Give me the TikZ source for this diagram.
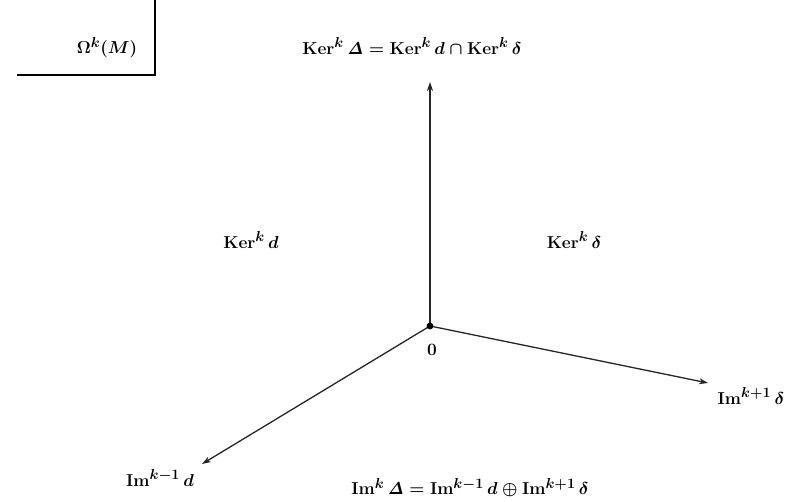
\documentclass[tikz,border=0pt]{standalone}
\usetikzlibrary{arrows.meta}
\begin{document}
\begin{tikzpicture}[x=1pt,y=1pt,
  lbl/.style={inner sep=0pt,font=\fontsize{19}{22}\selectfont\boldmath},
  axis/.style={draw=black!85,line width=1.3pt,-{Stealth[length=9pt,width=6pt]}}]
\useasboundingbox (0,0) rectangle (792,502);
% corner box
\coordinate (b1) at (17,427);
\coordinate (b2) at (155,427);
\coordinate (b3) at (155,502);
\draw[line width=1.4pt] (b1) -- (b2) -- (b3);
\node[lbl] (omega) at (107,454) {$\Omega^k(M)$};
% origin
\coordinate (O) at (430,176);
\coordinate (up) at (430,420);
\coordinate (rt) at (708,119);
\coordinate (lf) at (202,38);
\draw[axis] (O) -- (up);
\draw[axis] (O) -- (rt);
\draw[axis] (O) -- (lf);
\fill (O) circle (3.4pt);
\node[lbl] (zero) at (432,152) {$0$};
\node[lbl] (kerD) at (412,456) {$\mathrm{Ker}^k\,\mathit{\Delta}=\mathrm{Ker}^k\,d\cap\mathrm{Ker}^k\,\delta$};
\node[lbl] (kerd) at (251,262) {$\mathrm{Ker}^k\,d$};
\node[lbl] (kerdel) at (574,262) {$\mathrm{Ker}^k\,\delta$};
\node[lbl] (imdel) at (751,106) {$\mathrm{Im}^{k+1}\,\delta$};
\node[lbl] (imd) at (160,24) {$\mathrm{Im}^{k-1}\,d$};
\node[lbl] (imD) at (470,14) {$\mathrm{Im}^k\,\mathit{\Delta}=\mathrm{Im}^{k-1}\,d\oplus\mathrm{Im}^{k+1}\,\delta$};
\end{tikzpicture}
\end{document}
